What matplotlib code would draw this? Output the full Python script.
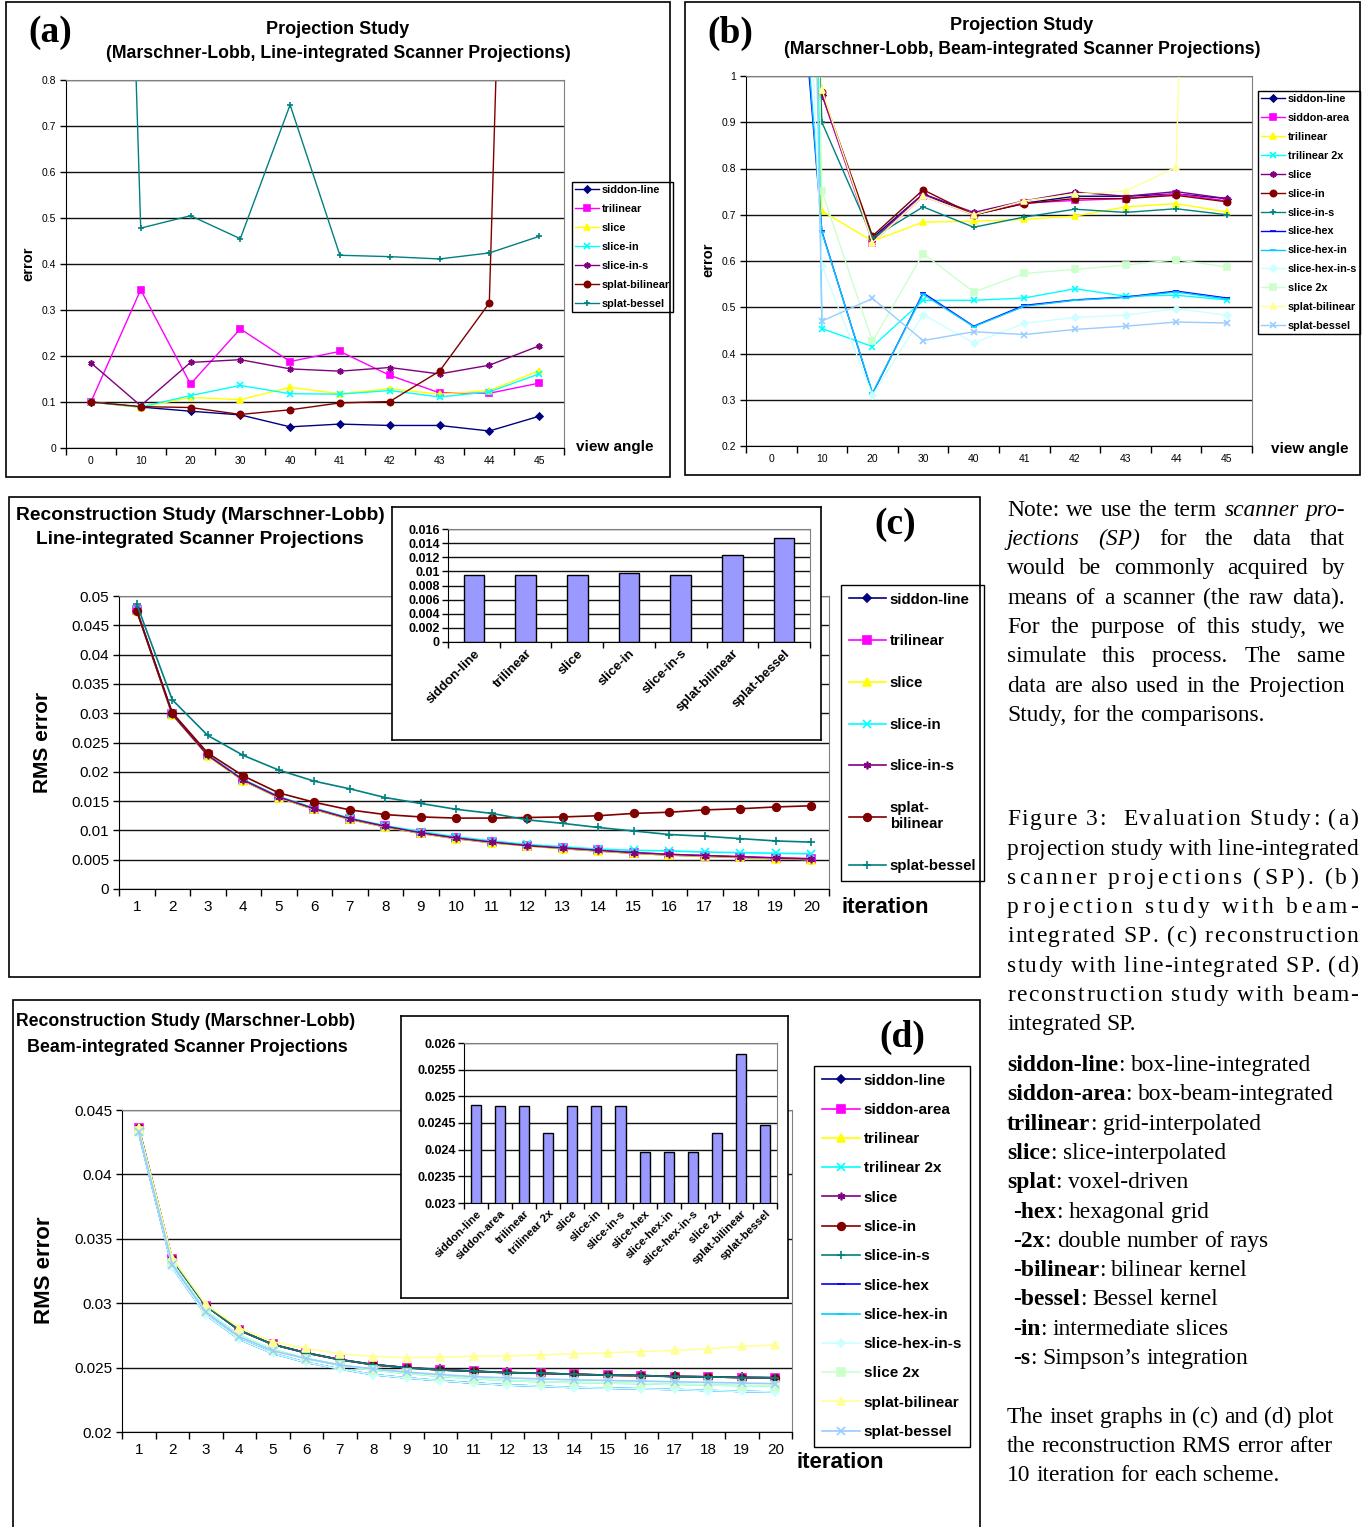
import matplotlib
matplotlib.use('Agg')
import matplotlib.pyplot as plt
import numpy as np
from matplotlib.patches import Rectangle

# ---------------- DATA ----------------
angles = ['0', '10', '20', '30', '40', '41', '42', '43', '44', '45']

# panel (a): line-integrated projections
a_siddon_line = [0.100, 0.089, 0.080, 0.072, 0.046, 0.052, 0.049, 0.049, 0.037, 0.069]
a_trilinear = [0.100, 0.344, 0.139, 0.259, 0.188, 0.210, 0.158, 0.120, 0.119, 0.141]
a_slice = [0.100, 0.088, 0.110, 0.105, 0.132, 0.118, 0.129, 0.117, 0.125, 0.168]
a_slice_in = [0.100, 0.089, 0.114, 0.136, 0.118, 0.117, 0.125, 0.111, 0.122, 0.161]
a_slice_in_s = [0.185, 0.092, 0.186, 0.192, 0.172, 0.167, 0.175, 0.161, 0.180, 0.222]
a_splat_bilinear = [0.100, 0.090, 0.088, 0.073, 0.083, 0.098, 0.101, 0.167, 0.315, 4.0]
a_splat_bessel = [4.0, 0.478, 0.505, 0.455, 0.746, 0.419, 0.416, 0.411, 0.424, 0.460]

# panel (b): beam-integrated projections
b_siddon_line = [2.5, 0.960, 0.650, 0.745, 0.700, 0.725, 0.740, 0.740, 0.745, 0.735]
b_siddon_area = [2.5, 0.960, 0.640, 0.740, 0.700, 0.725, 0.731, 0.735, 0.745, 0.730]
b_trilinear = [4.0, 0.708, 0.643, 0.684, 0.686, 0.690, 0.697, 0.717, 0.724, 0.706]
b_trilinear_2x = [9.0, 0.454, 0.415, 0.515, 0.515, 0.520, 0.540, 0.524, 0.526, 0.516]
b_slice = [2.5, 0.962, 0.645, 0.745, 0.705, 0.730, 0.749, 0.740, 0.750, 0.735]
b_slice_in = [2.5, 0.965, 0.654, 0.754, 0.700, 0.724, 0.735, 0.735, 0.742, 0.728]
b_slice_in_s = [4.0, 0.900, 0.650, 0.717, 0.673, 0.695, 0.712, 0.705, 0.713, 0.700]
b_slice_hex = [2.0, 0.664, 0.313, 0.531, 0.459, 0.504, 0.516, 0.522, 0.535, 0.520]
b_slice_hex_in = [2.1, 0.662, 0.315, 0.528, 0.458, 0.502, 0.515, 0.521, 0.533, 0.518]
b_slice_hex_in_s = [3.0, 0.590, 0.310, 0.484, 0.423, 0.465, 0.478, 0.483, 0.497, 0.483]
b_slice_2x = [6.0, 0.751, 0.426, 0.616, 0.533, 0.573, 0.582, 0.591, 0.603, 0.587]
b_splat_bilinear = [5.0, 0.970, 0.640, 0.740, 0.700, 0.730, 0.745, 0.751, 0.803, 4.5]
b_splat_bessel = [6.0, 0.470, 0.519, 0.428, 0.447, 0.441, 0.452, 0.459, 0.468, 0.466]

iterations = [str(i) for i in range(1, 21)]

# panel (c): reconstruction, line-integrated
c_siddon_line = [0.0475, 0.0298, 0.0228, 0.0185, 0.0156, 0.0136, 0.0119, 0.0106, 0.0095, 0.0086,
                 0.0079, 0.0074, 0.0069, 0.0065, 0.0061, 0.0058, 0.0056, 0.0054, 0.0052, 0.0050]
c_trilinear = [0.0476, 0.0299, 0.0229, 0.0186, 0.0157, 0.0137, 0.0120, 0.0107, 0.0096, 0.0087,
               0.0080, 0.0074, 0.0070, 0.0066, 0.0062, 0.0059, 0.0057, 0.0055, 0.0053, 0.0052]
c_slice = [0.0474, 0.0297, 0.0227, 0.0185, 0.0156, 0.0136, 0.0119, 0.0106, 0.0095, 0.0086,
           0.0079, 0.0073, 0.0069, 0.0065, 0.0061, 0.0058, 0.0056, 0.0054, 0.0052, 0.0050]
c_slice_in = [0.0476, 0.0299, 0.0229, 0.0187, 0.0158, 0.0138, 0.0121, 0.0108, 0.0098, 0.0089,
              0.0082, 0.0076, 0.0072, 0.0068, 0.0066, 0.0065, 0.0063, 0.0062, 0.0061, 0.0060]
c_slice_in_s = [0.0475, 0.0298, 0.0228, 0.0186, 0.0157, 0.0137, 0.0120, 0.0107, 0.0096, 0.0087,
                0.0080, 0.0074, 0.0070, 0.0066, 0.0062, 0.0059, 0.0057, 0.0055, 0.0053, 0.0051]
c_splat_bilinear = [0.0475, 0.0301, 0.0232, 0.0193, 0.0164, 0.0148, 0.0135, 0.0127, 0.0123, 0.0121,
                    0.0121, 0.0122, 0.0123, 0.0125, 0.0129, 0.0131, 0.0135, 0.0137, 0.0140, 0.0142]
c_splat_bessel = [0.0486, 0.0323, 0.0262, 0.0228, 0.0203, 0.0184, 0.0171, 0.0156, 0.0146, 0.0136,
                  0.0129, 0.0118, 0.0112, 0.0105, 0.0099, 0.0093, 0.0090, 0.0086, 0.0082, 0.0080]
c_inset_labels = ['siddon-line', 'trilinear', 'slice', 'slice-in', 'slice-in-s', 'splat-bilinear', 'splat-bessel']
c_inset_values = [0.0095, 0.0095, 0.0095, 0.0097, 0.0095, 0.0123, 0.0147]

# panel (d): reconstruction, beam-integrated
d_siddon_line = [0.0436, 0.0334, 0.0298, 0.0279, 0.0268, 0.02615, 0.02563, 0.02524, 0.02500, 0.02486,
                 0.02473, 0.02462, 0.02457, 0.02449, 0.02442, 0.02439, 0.02431, 0.02429, 0.02424, 0.02421]
d_siddon_area = [0.0436, 0.0334, 0.0298, 0.0279, 0.0268, 0.02613, 0.02561, 0.02522, 0.02498, 0.02482,
                 0.02470, 0.02460, 0.02455, 0.02447, 0.02440, 0.02437, 0.02430, 0.02428, 0.02423, 0.02420]
d_trilinear = [0.0436, 0.0334, 0.0298, 0.0279, 0.0268, 0.02613, 0.02561, 0.02522, 0.02498, 0.02482,
               0.02470, 0.02460, 0.02455, 0.02447, 0.02440, 0.02437, 0.02430, 0.02428, 0.02423, 0.02420]
d_trilinear_2x = [0.0434, 0.0331, 0.0294, 0.0275, 0.0264, 0.0257, 0.0252, 0.0248, 0.02455, 0.02432,
                  0.02415, 0.02400, 0.02390, 0.02385, 0.02380, 0.02375, 0.02370, 0.02365, 0.02360, 0.02358]
d_slice = [0.0436, 0.0334, 0.0298, 0.0279, 0.0268, 0.02614, 0.02562, 0.02523, 0.02499, 0.02482,
           0.02471, 0.02461, 0.02456, 0.02448, 0.02441, 0.02438, 0.02431, 0.02428, 0.02423, 0.02421]
d_slice_in = [0.0436, 0.0334, 0.0298, 0.0279, 0.0268, 0.02614, 0.02562, 0.02523, 0.02499, 0.02482,
              0.02471, 0.02461, 0.02456, 0.02448, 0.02441, 0.02438, 0.02431, 0.02428, 0.02423, 0.02421]
d_slice_in_s = [0.0436, 0.0334, 0.0298, 0.0279, 0.0268, 0.02614, 0.02562, 0.02523, 0.02499, 0.02482,
                0.02471, 0.02461, 0.02456, 0.02448, 0.02441, 0.02438, 0.02431, 0.02428, 0.02423, 0.02421]
d_slice_hex = [0.0432, 0.0328, 0.0291, 0.0272, 0.0261, 0.0254, 0.0249, 0.02445, 0.02420, 0.02398,
               0.02380, 0.02365, 0.02355, 0.02345, 0.02340, 0.02335, 0.02330, 0.02322, 0.02315, 0.02310]
d_slice_hex_in = [0.0432, 0.0328, 0.0291, 0.0272, 0.0261, 0.0254, 0.0249, 0.02445, 0.02420, 0.02398,
                  0.02380, 0.02365, 0.02355, 0.02345, 0.02340, 0.02335, 0.02330, 0.02322, 0.02315, 0.02310]
d_slice_hex_in_s = [0.0432, 0.0328, 0.0291, 0.0272, 0.0261, 0.0254, 0.0249, 0.02445, 0.02420, 0.02398,
                    0.02380, 0.02365, 0.02355, 0.02345, 0.02340, 0.02335, 0.02330, 0.02322, 0.02315, 0.02310]
d_slice_2x = [0.0434, 0.0331, 0.0294, 0.0275, 0.0264, 0.0257, 0.0252, 0.0248, 0.02455, 0.02432,
              0.02415, 0.02400, 0.02390, 0.02385, 0.02380, 0.02375, 0.02370, 0.02365, 0.02360, 0.02358]
d_splat_bilinear = [0.0436, 0.0335, 0.0299, 0.0281, 0.0270, 0.0265, 0.02607, 0.02586, 0.02578, 0.02580,
                    0.02589, 0.02589, 0.02599, 0.02607, 0.02615, 0.02625, 0.02633, 0.02646, 0.02664, 0.02677]
d_splat_bessel = [0.0433, 0.0330, 0.0293, 0.0274, 0.0263, 0.0257, 0.0252, 0.0249, 0.02465, 0.02446,
                  0.02430, 0.02420, 0.02412, 0.02405, 0.02400, 0.02395, 0.02390, 0.02385, 0.02380, 0.02375]
d_inset_labels = ['siddon-line', 'siddon-area', 'trilinear', 'trilinear 2x', 'slice', 'slice-in', 'slice-in-s',
                  'slice-hex', 'slice-hex-in', 'slice-hex-in-s', 'slice 2x', 'splat-bilinear', 'splat-bessel']
d_inset_values = [0.02484, 0.02481, 0.02481, 0.02432, 0.02481, 0.02481, 0.02481,
                  0.02396, 0.02396, 0.02396, 0.02432, 0.02579, 0.02446]

# ---------------- STYLE ----------------
SANS = ['Liberation Sans', 'DejaVu Sans']
NARROW = ['Liberation Sans Narrow', 'Liberation Sans', 'DejaVu Sans']
SERIF = ['Liberation Serif', 'DejaVu Serif']
plt.rcParams['font.family'] = SANS

STAR = (6, 2, 0)
sty = {
    'siddon-line': ('#000080', 'D'),
    'siddon-area': ('#FF00FF', 's'),
    'trilinear': ('#FFFF00', '^'),
    'trilinear 2x': ('#00FFFF', 'x'),
    'slice': ('#800080', STAR),
    'slice-in': ('#800000', 'o'),
    'slice-in-s': ('#008080', '+'),
    'slice-hex': ('#0000FF', '_'),
    'slice-hex-in': ('#00CCFF', '_'),
    'slice-hex-in-s': ('#CCFFFF', 'D'),
    'slice 2x': ('#CCFFCC', 's'),
    'splat-bilinear': ('#FFFF99', '^'),
    'splat-bessel': ('#99CCFF', 'x'),
}
sty_a = {
    'siddon-line': ('#000080', 'D'),
    'trilinear': ('#FF00FF', 's'),
    'slice': ('#FFFF00', '^'),
    'slice-in': ('#00FFFF', 'x'),
    'slice-in-s': ('#800080', STAR),
    'splat-bilinear': ('#800000', 'o'),
    'splat-bessel': ('#008080', '+'),
}

W, H = 1368, 1527
fig = plt.figure(figsize=(W / 100, H / 100), dpi=100)


def box(x0, y0, x1, y1):
    return [x0 / W, 1 - y1 / H, (x1 - x0) / W, (y1 - y0) / H]


def fx(x):
    return x / W


def fy(y):
    return 1 - y / H


def fmt(v):
    return ('%.4f' % v).rstrip('0').rstrip('.') if v != 0 else '0'


def cat_axis(ax, labels, fs, fam, pad, ticklen=5):
    n = len(labels)
    ax.set_xlim(-0.5, n - 0.5)
    ax.set_xticks(np.arange(-0.5, n, 1.0))
    ax.set_xticklabels([])
    ax.set_xticks(np.arange(n), minor=True)
    ax.set_xticklabels(labels, minor=True, fontsize=fs, family=fam)
    ax.tick_params(axis='x', which='major', length=ticklen, direction='out', width=1)
    ax.tick_params(axis='x', which='minor', length=0, pad=pad)


def y_axis(ax, ticks, fs, fam, weight='normal', pad=3):
    ax.set_yticks(ticks)
    ax.set_yticklabels([fmt(t) for t in ticks], fontsize=fs, family=fam, fontweight=weight)
    ax.tick_params(axis='y', length=4, direction='out', pad=pad, width=1)


def frame(ax):
    ax.spines['top'].set_color('#808080')
    ax.spines['right'].set_color('#808080')
    ax.spines['left'].set_color('black')
    ax.spines['bottom'].set_color('black')
    ax.yaxis.grid(True, color='#111111', lw=1.0)
    ax.set_axisbelow(True)


def legend(ax, x, y, fs, spacing, hl=2.2, pad=0.3):
    lg = ax.legend(loc='upper left', bbox_to_anchor=(fx(x), fy(y)), bbox_transform=fig.transFigure,
                   prop=dict(family=SANS, weight='bold', size=fs), frameon=True, fancybox=False,
                   edgecolor='black', framealpha=1, borderpad=pad, labelspacing=spacing,
                   handlelength=hl, handletextpad=0.25, borderaxespad=0)
    lg.get_frame().set_linewidth(1.0)
    return lg


def draw_panel_border(x0, y0, x1, y1):
    fig.patches.append(Rectangle((fx(x0), fy(y1)), fx(x1) - fx(x0), fy(y0) - fy(y1),
                                 transform=fig.transFigure, fill=False, ec='black', lw=1.2))


# ---------------- PANEL (a) ----------------
draw_panel_border(6, 2, 670, 477)
axA = fig.add_axes(box(66, 80, 564, 448))
xa = np.arange(len(angles))
series_a = [('siddon-line', a_siddon_line), ('trilinear', a_trilinear), ('slice', a_slice),
            ('slice-in', a_slice_in), ('slice-in-s', a_slice_in_s),
            ('splat-bilinear', a_splat_bilinear), ('splat-bessel', a_splat_bessel)]
for name, vals in series_a:
    col, mk = sty_a[name]
    axA.plot(xa, vals, color=col, marker=mk, ms=4.5 if mk != 'D' else 3.5, mew=1.2, lw=1,
             mfc=col, mec=col, label=name)
axA.set_ylim(0, 0.8)
cat_axis(axA, angles, 7.5, SANS, 6)
y_axis(axA, np.round(np.arange(0, 0.81, 0.1), 1), 7.5, SANS)
frame(axA)
legend(axA, 572, 182, 7.8, 0.82)
fig.text(fx(338), fy(29), 'Projection Study', ha='center', va='center', fontsize=13,
         fontweight='bold', family=NARROW)
fig.text(fx(338), fy(54), '(Marschner-Lobb, Line-integrated Scanner Projections)', ha='center',
         va='center', fontsize=12.7, fontweight='bold', family=NARROW)
fig.text(fx(50), fy(33), '(a)', ha='center', va='center', fontsize=27, fontweight='bold', family=SERIF)
fig.text(fx(28), fy(264), 'error', ha='center', va='center', rotation=90, fontsize=10.5,
         fontweight='bold', family=SANS)
fig.text(fx(576), fy(447), 'view angle', ha='left', va='center', fontsize=11, fontweight='bold', family=SANS)

# ---------------- PANEL (b) ----------------
draw_panel_border(685, 2, 1360, 475)
axB = fig.add_axes(box(746, 76, 1252, 446))
series_b = [('siddon-line', b_siddon_line), ('siddon-area', b_siddon_area), ('trilinear', b_trilinear),
            ('trilinear 2x', b_trilinear_2x), ('slice', b_slice), ('slice-in', b_slice_in),
            ('slice-in-s', b_slice_in_s), ('slice-hex', b_slice_hex), ('slice-hex-in', b_slice_hex_in),
            ('slice-hex-in-s', b_slice_hex_in_s), ('slice 2x', b_slice_2x),
            ('splat-bilinear', b_splat_bilinear), ('splat-bessel', b_splat_bessel)]
for name, vals in series_b:
    col, mk = sty[name]
    axB.plot(xa, vals, color=col, marker=mk, ms=4.5 if mk != 'D' else 3.5, mew=1.2, lw=1,
             mfc=col, mec=col, label=name)
axB.set_ylim(0.2, 1.0)
cat_axis(axB, angles, 7.5, SANS, 6)
y_axis(axB, np.round(np.arange(0.2, 1.01, 0.1), 1), 7.5, SANS)
frame(axB)
legend(axB, 1258, 91, 7.8, 0.82)
fig.text(fx(1022), fy(25), 'Projection Study', ha='center', va='center', fontsize=13,
         fontweight='bold', family=NARROW)
fig.text(fx(1022), fy(50), '(Marschner-Lobb, Beam-integrated Scanner Projections)', ha='center',
         va='center', fontsize=12.7, fontweight='bold', family=NARROW)
fig.text(fx(730), fy(33), '(b)', ha='center', va='center', fontsize=27, fontweight='bold', family=SERIF)
fig.text(fx(708), fy(260), 'error', ha='center', va='center', rotation=90, fontsize=10.5,
         fontweight='bold', family=SANS)
fig.text(fx(1271), fy(449), 'view angle', ha='left', va='center', fontsize=11, fontweight='bold', family=SANS)

# ---------------- PANEL (c) ----------------
draw_panel_border(9, 497, 980, 977)
axC = fig.add_axes(box(119, 596, 829, 889))
xi = np.arange(len(iterations))
series_c = [('siddon-line', c_siddon_line), ('trilinear', c_trilinear), ('slice', c_slice),
            ('slice-in', c_slice_in), ('slice-in-s', c_slice_in_s),
            ('splat-bilinear', c_splat_bilinear), ('splat-bessel', c_splat_bessel)]
for name, vals in series_c:
    col, mk = sty_a[name]
    lab = 'splat-\nbilinear' if name == 'splat-bilinear' else name
    axC.plot(xi, vals, color=col, marker=mk, ms=5.5 if mk != 'D' else 4, mew=1.2, lw=1.2,
             mfc=col, mec=col, label=lab)
axC.set_ylim(0, 0.05)
cat_axis(axC, iterations, 11, NARROW, 8)
y_axis(axC, np.round(np.arange(0, 0.0501, 0.005), 3), 11, NARROW)
frame(axC)
legend(axC, 841, 585, 10.8, 1.85, hl=2.5, pad=0.5)
fig.text(fx(16), fy(515), 'Reconstruction Study (Marschner-Lobb)', ha='left', va='center',
         fontsize=13.9, fontweight='bold', family=SANS)
fig.text(fx(200), fy(539), 'Line-integrated Scanner Projections', ha='center', va='center',
         fontsize=13.8, fontweight='bold', family=SANS)
fig.text(fx(895), fy(525), '(c)', ha='center', va='center', fontsize=27, fontweight='bold', family=SERIF)
fig.text(fx(42), fy(742), 'RMS error', ha='center', va='center', rotation=90, fontsize=15,
         fontweight='bold', family=SANS)
fig.text(fx(842), fy(908), 'iteration', ha='left', va='center', fontsize=16, fontweight='bold', family=SANS)

# inset (c)
insC_bg = fig.add_axes(box(392, 507, 821, 740), zorder=3)
insC_bg.set_xticks([]); insC_bg.set_yticks([])
for s in insC_bg.spines.values():
    s.set_color('black'); s.set_linewidth(1.2)
insC = fig.add_axes(box(448, 529, 810, 642), zorder=4)
xc = np.arange(len(c_inset_labels))
insC.bar(xc, c_inset_values, width=0.4, color='#9999FF', edgecolor='black', lw=1)
insC.set_ylim(0, 0.016)
cat_axis(insC, c_inset_labels, 9.5, SANS, 4, ticklen=4)
for t in insC.get_xticklabels(minor=True):
    t.set_rotation(45); t.set_ha('right'); t.set_rotation_mode('anchor'); t.set_fontweight('bold')
y_axis(insC, np.round(np.arange(0, 0.0161, 0.002), 3), 9, SANS, weight='bold', pad=2)
frame(insC)

# ---------------- PANEL (d) ----------------
draw_panel_border(13, 1000, 980, 1530)
axD = fig.add_axes(box(122, 1110, 792, 1432))
series_d = [('siddon-line', d_siddon_line), ('siddon-area', d_siddon_area), ('trilinear', d_trilinear),
            ('trilinear 2x', d_trilinear_2x), ('slice', d_slice), ('slice-in', d_slice_in),
            ('slice-in-s', d_slice_in_s), ('slice-hex', d_slice_hex), ('slice-hex-in', d_slice_hex_in),
            ('slice-hex-in-s', d_slice_hex_in_s), ('slice 2x', d_slice_2x),
            ('splat-bilinear', d_splat_bilinear), ('splat-bessel', d_splat_bessel)]
for name, vals in series_d:
    col, mk = sty[name]
    axD.plot(xi, vals, color=col, marker=mk, ms=5.5 if mk != 'D' else 4, mew=1.2, lw=1.2,
             mfc=col, mec=col, label=name)
axD.set_ylim(0.02, 0.045)
cat_axis(axD, iterations, 11, NARROW, 8)
y_axis(axD, np.round(np.arange(0.02, 0.04501, 0.005), 3), 11, NARROW)
frame(axD)
legend(axD, 814, 1066, 11, 1.0, hl=2.5, pad=0.5)
fig.text(fx(16), fy(1021), 'Reconstruction Study (Marschner-Lobb)', ha='left', va='center',
         fontsize=12.7, fontweight='bold', family=SANS)
fig.text(fx(187), fy(1047), 'Beam-integrated Scanner Projections', ha='center', va='center',
         fontsize=12.9, fontweight='bold', family=SANS)
fig.text(fx(902), fy(1037), '(d)', ha='center', va='center', fontsize=27, fontweight='bold', family=SERIF)
fig.text(fx(45), fy(1270), 'RMS error', ha='center', va='center', rotation=90, fontsize=16,
         fontweight='bold', family=SANS)
fig.text(fx(796), fy(1462), 'iteration', ha='left', va='center', fontsize=16, fontweight='bold', family=SANS)

# inset (d)
insD_bg = fig.add_axes(box(401, 1016, 788, 1298), zorder=3)
insD_bg.set_xticks([]); insD_bg.set_yticks([])
for s in insD_bg.spines.values():
    s.set_color('black'); s.set_linewidth(1.2)
insD = fig.add_axes(box(464, 1043, 777, 1203), zorder=4)
xd = np.arange(len(d_inset_labels))
insD.bar(xd, d_inset_values, width=0.42, color='#9999FF', edgecolor='black', lw=1)
insD.set_ylim(0.023, 0.026)
cat_axis(insD, d_inset_labels, 8.2, SANS, 4, ticklen=4)
for t in insD.get_xticklabels(minor=True):
    t.set_rotation(45); t.set_ha('right'); t.set_rotation_mode('anchor'); t.set_fontweight('bold')
y_axis(insD, np.round(np.arange(0.023, 0.02601, 0.0005), 4), 9, SANS, weight='bold', pad=2)
frame(insD)

# ---------------- RIGHT TEXT ----------------
renderer = fig.canvas.get_renderer()
TFS = 16.9
TX0 = 1007


def tokenize(segs):
    chars = []
    for text, st in segs:
        for ch in text:
            chars.append((ch, st))
    toks = []
    cur, cur_st, sp, pending = '', None, False, False
    for ch, st in chars:
        if ch == ' ':
            if cur:
                toks.append([cur, cur_st, sp]); cur = ''
            pending = True
            continue
        if cur and st != cur_st:
            toks.append([cur, cur_st, sp]); cur = ''
        if not cur:
            cur_st = st; sp = pending; pending = False
        cur += ch
    if cur:
        toks.append([cur, cur_st, sp])
    return toks


def _props(st):
    return dict(fontsize=TFS, family=SERIF, fontweight='bold' if st == 'b' else 'normal',
                fontstyle='italic' if st == 'i' else 'normal')


def _w(s, st):
    t = fig.text(0, 0, s, **_props(st))
    w = t.get_window_extent(renderer=renderer).width
    t.remove()
    return w


SPACE_W = _w('a a', 'n') - _w('aa', 'n')


def text_line(y, segs, mode, x1):
    if mode == 'chars':
        chars = []
        for text, st in segs:
            for ch in text:
                chars.append((ch, st))
        widths = [SPACE_W if ch == ' ' else _w(ch, st) for ch, st in chars]
        extra = (x1 - TX0 - sum(widths)) / (len(chars) - 1)
        x = TX0
        for (ch, st), w in zip(chars, widths):
            if ch != ' ':
                fig.text(fx(x), fy(y), ch, va='baseline', ha='left', **_props(st))
            x += w + extra
        return
    toks = tokenize(segs)
    widths = [_w(t, st) for t, st, sp in toks]
    ngaps = sum(1 for i, tk in enumerate(toks) if i > 0 and tk[2])
    gap = SPACE_W
    if mode == 'words' and ngaps > 0:
        gap = (x1 - TX0 - sum(widths)) / ngaps
    x = TX0
    for i, (t, st, sp) in enumerate(toks):
        if sp:
            x += gap if i > 0 else SPACE_W
        fig.text(fx(x), fy(y), t, va='baseline', ha='left', **_props(st))
        x += widths[i]


NOTE_R = 1345
CAP_R = 1358
note = [
    (516, [('Note: we use the term ', 'n'), ('scanner pro-', 'i')], 'words', NOTE_R),
    (545, [('jections (SP)', 'i'), (' for the data that', 'n')], 'words', NOTE_R),
    (574, [('would be commonly acquired by', 'n')], 'words', NOTE_R),
    (604, [('means of a scanner (the raw data).', 'n')], 'words', NOTE_R),
    (633, [('For the purpose of this study, we', 'n')], 'words', NOTE_R),
    (662, [('simulate this process. The same', 'n')], 'words', NOTE_R),
    (692, [('data are also used in the Projection', 'n')], 'words', NOTE_R),
    (721, [('Study, for the comparisons.', 'n')], 'left', NOTE_R),
    (825, [('Figure 3:  Evaluation Study: (a)', 'n')], 'chars', CAP_R),
    (855, [('projection study with line-integrated', 'n')], 'chars', CAP_R),
    (884, [('scanner projections (SP). (b)', 'n')], 'chars', CAP_R),
    (913, [('projection study with beam-', 'n')], 'chars', CAP_R),
    (942, [('integrated SP. (c) reconstruction', 'n')], 'chars', CAP_R),
    (972, [('study with line-integrated SP. (d)', 'n')], 'chars', CAP_R),
    (1001, [('reconstruction study with beam-', 'n')], 'chars', CAP_R),
    (1030, [('integrated SP.', 'n')], 'left', CAP_R),
    (1071, [('siddon-line', 'b'), (': box-line-integrated', 'n')], 'left', CAP_R),
    (1100, [('siddon-area', 'b'), (': box-beam-integrated', 'n')], 'left', CAP_R),
    (1130, [('trilinear', 'b'), (': grid-interpolated', 'n')], 'left', CAP_R),
    (1159, [('slice', 'b'), (': slice-interpolated', 'n')], 'left', CAP_R),
    (1188, [('splat', 'b'), (': voxel-driven', 'n')], 'left', CAP_R),
    (1218, [(' ', 'n'), ('-hex', 'b'), (': hexagonal grid', 'n')], 'left', CAP_R),
    (1247, [(' ', 'n'), ('-2x', 'b'), (': double number of rays', 'n')], 'left', CAP_R),
    (1276, [(' ', 'n'), ('-bilinear', 'b'), (': bilinear kernel', 'n')], 'left', CAP_R),
    (1305, [(' ', 'n'), ('-bessel', 'b'), (': Bessel kernel', 'n')], 'left', CAP_R),
    (1335, [(' ', 'n'), ('-in', 'b'), (': intermediate slices', 'n')], 'left', CAP_R),
    (1364, [(' ', 'n'), ('-s', 'b'), (': Simpson\u2019s integration', 'n')], 'left', CAP_R),
    (1423, [('The inset graphs in (c) and (d) plot', 'n')], 'left', CAP_R),
    (1452, [('the reconstruction RMS error after', 'n')], 'left', CAP_R),
    (1481, [('10 iteration for each scheme.', 'n')], 'left', CAP_R),
]
for y, segs, mode, x1 in note:
    text_line(y, segs, mode, x1)

fig.savefig('out.png', dpi=100)
